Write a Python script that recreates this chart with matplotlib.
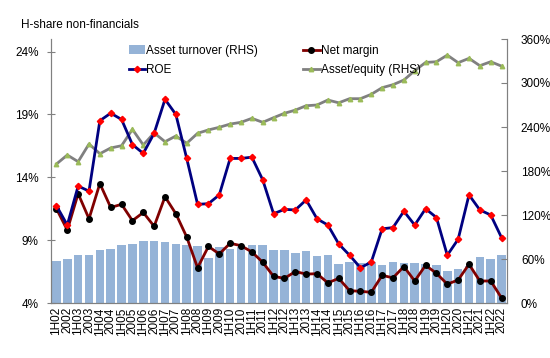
import numpy as np
import matplotlib.pyplot as plt
from matplotlib.patches import Patch
from matplotlib.lines import Line2D

plt.rcParams['font.family'] = ['Liberation Sans', 'DejaVu Sans']

periods = []
for yy in range(2, 23):
    periods.append('1H%02d' % yy)
    periods.append('20%02d' % yy)

# asset turnover, % (right axis)
turnover = [57, 60, 65.5, 65, 72, 73, 78.6, 81, 84, 85,
            83, 81, 78.6, 78, 62, 76, 74, 76, 78.6, 78.6,
            72.7, 72.7, 67.7, 70.4, 64, 66, 53, 56, 54, 56,
            52, 55.5, 54, 54, 53, 52, 43, 46, 50, 63,
            60, 65.5]
# asset/equity, % (right axis)
asset_equity = [189.5, 201.8, 192.7, 216.8, 203.6, 211.4, 214.5, 236.8, 215.5, 232,
                220, 227.7, 217.8, 231.4, 236, 239.6, 244, 246.4, 251.8, 246.4,
                252.7, 258.7, 263, 269, 270, 276.8, 273, 278.6, 278.6, 284.6,
                293.6, 297.7, 304, 316.8, 328, 329, 338, 327.7, 333.6, 323.6,
                329, 323]
# ROE, % (left axis)
roe = [11.74, 10.2, 13.3, 12.9, 18.5, 19.1, 18.6, 16.6, 15.9, 17.5,
       20.2, 19.0, 15.5, 11.85, 11.9, 12.6, 15.5, 15.5, 15.6, 13.8,
       11.1, 11.45, 11.4, 12.2, 10.7, 10.2, 8.7, 7.8, 6.8, 7.26,
       9.9, 10.0, 11.3, 10.2, 11.5, 10.8, 7.8, 9.07, 12.6, 11.4,
       11.0, 9.2]
# net margin, % (left axis)
net_margin = [11.5, 9.8, 12.7, 10.7, 13.5, 11.6, 11.85, 10.55, 11.2, 10.1,
              12.45, 11.1, 9.25, 6.8, 8.5, 7.9, 8.75, 8.56, 8.06, 7.24,
              6.12, 5.96, 6.5, 6.3, 6.33, 5.6, 5.96, 4.98, 4.93, 4.85,
              6.2, 6.0, 6.9, 5.75, 7.0, 6.36, 5.5, 5.83, 7.08, 5.75,
              5.75, 4.4]

fs = 8.5
x = np.arange(len(periods))

fig = plt.figure(figsize=(5.5, 3.58), dpi=100)
ax1 = fig.add_axes([51/550, 1-303/358, 456/550, 264/358])
ax2 = ax1.twinx()
ax1.set_zorder(ax2.get_zorder() + 1)
ax1.patch.set_visible(False)

ax2.bar(x, turnover, width=0.8, color='#95B3D7', zorder=1)
ax2.plot(x, asset_equity, color='#808080', linewidth=2, marker='^',
         markersize=3.2, markerfacecolor='#9BBB59', markeredgecolor='#9BBB59', zorder=3)

ax1.plot(x, net_margin, color='#800000', linewidth=2, marker='o',
         markersize=4, markerfacecolor='black', markeredgecolor='black')
ax1.plot(x, roe, color='#000080', linewidth=2, marker='D',
         markersize=3.2, markerfacecolor='red', markeredgecolor='red')

ax1.set_xlim(-0.5, len(periods) - 0.5)
ax1.set_ylim(4, 25)
ax1.set_yticks([4, 9, 14, 19, 24])
ax1.set_yticklabels(['4%', '9%', '14%', '19%', '24%'], fontsize=fs)
ax2.set_ylim(0, 360)
ax2.set_yticks([0, 60, 120, 180, 240, 300, 360])
ax2.set_yticklabels(['%d%%' % v for v in [0, 60, 120, 180, 240, 300, 360]], fontsize=fs)

ax1.set_xticks(x)
ax1.set_xticklabels(periods, rotation=90, fontsize=fs)
ax1.tick_params(axis='x', length=0, pad=3)
ax1.tick_params(axis='y', direction='inout', length=6, color='#808080', pad=6)
ax2.tick_params(axis='y', direction='in', length=4, color='#808080', pad=10)

for ax in (ax1, ax2):
    ax.spines['top'].set_visible(False)
    for s in ('left', 'right', 'bottom'):
        ax.spines[s].set_color('#808080')

handles = [Patch(facecolor='#95B3D7'),
           Line2D([], [], color='#000080', linewidth=2, marker='D', markersize=3.2,
                  markerfacecolor='red', markeredgecolor='red'),
           Line2D([], [], color='#800000', linewidth=2, marker='o', markersize=4,
                  markerfacecolor='black', markeredgecolor='black'),
           Line2D([], [], color='#808080', linewidth=2, marker='^', markersize=3.2,
                  markerfacecolor='#9BBB59', markeredgecolor='#9BBB59')]
labels = ['Asset turnover (RHS)', 'ROE', 'Net margin', 'Asset/equity (RHS)']
ax1.legend(handles, labels, ncol=2, loc='upper left', frameon=False, fontsize=fs,
           bbox_to_anchor=(124/550, 1-40/358), bbox_transform=fig.transFigure,
           borderaxespad=0, handlelength=1.4, handletextpad=0.1,
           columnspacing=3.8, labelspacing=0.6)

fig.text(21/550, 1-25/358, 'H-share non-financials', fontsize=fs, va='center', ha='left')

fig.savefig('out.png', dpi=100)
